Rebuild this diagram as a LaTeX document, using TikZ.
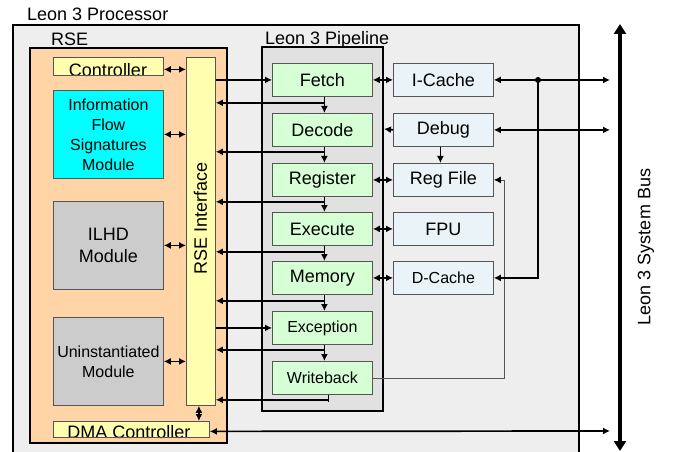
\documentclass[tikz,border=0pt]{standalone}
\usepackage{fontspec}
\setmainfont{Liberation Sans}
\usetikzlibrary{arrows.meta,calc}
\definecolor{procgray}{HTML}{EEEEEE}
\definecolor{rsepeach}{HTML}{FFD5A8}
\definecolor{ylw}{HTML}{FFFFAF}
\definecolor{cyanmod}{HTML}{00FFFF}
\definecolor{modgray}{HTML}{CCCCCC}
\definecolor{pipegray}{HTML}{E1E1E1}
\definecolor{stagegreen}{HTML}{D6FFD6}
\definecolor{cacheblue}{HTML}{EAF3F8}
\definecolor{edge}{HTML}{555555}
\newcommand\myfs[2]{\fontsize{#1}{#2}\selectfont}
\begin{document}
\begin{tikzpicture}[x=1pt,y=-1pt,
  box/.style={draw=edge, line width=0.8pt, inner sep=0pt, anchor=north west, align=center},
  stagebox/.style={box, fill=stagegreen, minimum width=100pt, minimum height=33pt},
  cachebox/.style={box, fill=cacheblue, minimum width=100pt, minimum height=33pt},
  modbox/.style={box, minimum width=110pt, minimum height=88pt},
  conn/.style={line width=1.7pt},
  arr/.style={conn, -{Latex[length=7pt,width=7pt]}},
  darr/.style={conn, {Latex[length=7pt,width=7pt]}-{Latex[length=7pt,width=7pt]}},
  big/.style={font=\myfs{18}{22}},
  small/.style={font=\myfs{16}{20}},
  lbl/.style={inner sep=0pt, anchor=base west, font=\myfs{18}{22}}
]
\useasboundingbox (0,0) rectangle (673,452);
% processor
\draw[line width=2.5pt, fill=procgray] (13,25) rectangle (579,480);
\node[lbl] (tproc) at (27,21) {Leon 3 Processor};
% RSE
\draw[line width=2.2pt, fill=rsepeach] (30,48) rectangle (227,443);
\node[lbl] (trse) at (51,46) {RSE};
% pipeline
\draw[line width=2.2pt, fill=pipegray] (262,47) rectangle (383,411);
\coordinate (pipeR) at (384,129);
\node[lbl] (tpipe) at (265,45) {Leon 3 Pipeline};

% RSE modules
\node[box, fill=ylw, minimum width=110pt, minimum height=18pt, draw=none] (ctrl) at (53,57) {};
\node[inner sep=0pt, anchor=base, big] (tctrl) at (108,76.5) {Controller};
\draw[edge, line width=0.8pt] (ctrl.north west) rectangle (ctrl.south east);
\node[modbox, fill=cyanmod, small] (info) at (53,90) {Information\\Flow\\Signatures\\Module};
\node[modbox, fill=modgray, big] (ilhd) at (53,201) {ILHD\\Module};
\node[modbox, fill=modgray, small] (unin) at (53,317) {Uninstantiated\\Module};
\node[box, fill=ylw, minimum width=156pt, minimum height=16pt, draw=none] (dma) at (53,421) {};
\node[inner sep=0pt, anchor=base, big] (tdma) at (129,438.5) {DMA Controller};
\draw[edge, line width=0.8pt] (dma.north west) rectangle (dma.south east);
\node[box, fill=ylw, minimum width=29pt, minimum height=348pt] (iface) at (186,57) {};
\node[rotate=90, big, inner sep=0pt] (tiface) at (200.5,218) {RSE Interface};

% stages
\node[stagebox, big] (fetch) at (272,63) {Fetch};
\node[stagebox, big] (decode) at (272,113) {Decode};
\node[stagebox, big] (reg) at (272,163) {Register};
\node[stagebox, big] (exec) at (272,212) {Execute};
\node[stagebox, big] (mem) at (272,261) {Memory};
\node[stagebox, small] (exc) at (272,311) {Exception};
\node[stagebox, small] (wb) at (272,361) {Writeback};

% caches
\node[cachebox, big] (icache) at (393,63) {I-Cache};
\node[cachebox, big] (debug) at (393,113) {Debug};
\node[cachebox, big] (regfile) at (393,163) {Reg File};
\node[cachebox, big] (fpu) at (393,212) {FPU};
\node[cachebox, small] (dcache) at (393,261) {D-Cache};

% RSE internal arrows
\draw[darr] ([yshift=-3pt]ctrl.east) -- ([yshift=-3pt]ctrl.east -| iface.west);
\draw[darr] (info.east) -- (info.east -| iface.west);
\draw[darr] (ilhd.east) -- (ilhd.east -| iface.west);
\draw[darr] (unin.east) -- (unin.east -| iface.west);
\draw[darr] ([xshift=-2pt]iface.south) -- ([xshift=-2pt]iface.south |- dma.north);

% interface -> stages
\draw[arr] (iface.east |- fetch.west) -- (fetch.west);
\draw[arr] (iface.east |- exc.west) -- (exc.west);

% stage chain and feedback to interface
\foreach \a/\b/\d in {fetch/decode/6, decode/reg/5, reg/exec/5, exec/mem/6, mem/exc/6, exc/wb/5}{
  \draw[arr] ([xshift=2pt]\a.south) -- ([xshift=2pt]\b.north);
  \draw[arr] ([xshift=2pt,yshift=-\d pt]\a.south) -- ([yshift=-\d pt]\a.south -| iface.east);
}
\draw[line width=0.8pt] ([xshift=6pt]wb.south) -- ([xshift=6pt,yshift=-7pt]wb.south);
\draw[arr] ([xshift=6pt,yshift=-5pt]wb.south) -- ([yshift=-5pt]wb.south -| iface.east);

% stages <-> caches
\draw[darr] (fetch.east) -- (icache.west);
\draw[arr] (debug.west) -- (pipeR);
\draw[darr] (reg.east) -- (regfile.west);
\draw[darr] (exec.east) -- (fpu.west);
\draw[darr] (mem.east) -- (dcache.west);
\draw[arr] ([xshift=-3pt]debug.south) -- ([xshift=-3pt]regfile.north);

% writeback -> reg file
\coordinate (wr) at (504,377);
\draw[edge, line width=0.8pt] (wb.east) -- (wb.east -| wr) -- (wr |- regfile.east) -- ([xshift=5pt]regfile.east);
\draw[line width=1.2pt, -{Latex[length=7pt,width=7pt]}] ([xshift=5pt]regfile.east) -- (regfile.east);

% system bus
\coordinate (bustop) at (620,24);
\coordinate (busbot) at (620,451);
\draw[line width=4.5pt, {Triangle[length=10pt,width=12pt]}-{Triangle[length=10pt,width=12pt]}] (bustop) -- (busbot);
\node[rotate=90, big, inner sep=0pt] (tbus) at (646,247) {Leon 3 System Bus};
\coordinate (bI) at (610,80);
\coordinate (bD) at (610,129);
\coordinate (bM) at (610,431);
\coordinate (jd) at (538,80);
\draw[darr] (icache.east) -- (bI);
\fill (jd) circle (3pt);
\draw[arr] (jd) |- (dcache.east);
\draw[darr] (debug.east) -- (debug.east -| bD);
\draw[darr] ([yshift=-2pt]dma.east) -- (bM);
\end{tikzpicture}
\end{document}
